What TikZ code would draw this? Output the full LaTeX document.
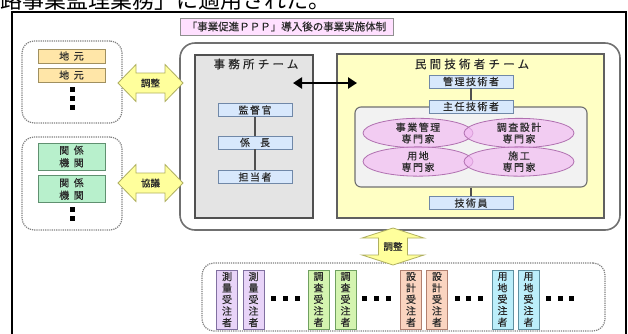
\documentclass[tikz,border=0pt]{standalone}
\usepackage{fontspec}
\setmainfont{Noto Sans CJK JP}
\newfontfamily\jp[FakeBold=0.4]{Noto Sans CJK JP}
\newfontfamily\jpthin{Noto Sans CJK JP}
\newfontfamily\jpsp[LetterSpace=15,FakeBold=0.4]{Noto Sans CJK JP}
\newfontfamily\jpwide[LetterSpace=28,FakeBold=0.4]{Noto Sans CJK JP}
\newfontfamily\jpvwide[LetterSpace=45,FakeBold=0.4]{Noto Sans CJK JP}
\usetikzlibrary{arrows.meta,shapes.geometric}
\definecolor{txt}{HTML}{2A2A2A}
\definecolor{titlefill}{HTML}{FFE0FF}
\definecolor{titlebd}{HTML}{909090}
\definecolor{mainbd}{HTML}{707070}
\definecolor{officefill}{HTML}{E4E4E4}
\definecolor{officebd}{HTML}{505050}
\definecolor{privfill}{HTML}{FFFFC4}
\definecolor{privbd}{HTML}{606060}
\definecolor{bluefill}{HTML}{D8E8FC}
\definecolor{bluebd}{HTML}{7088A8}
\definecolor{innerfill}{HTML}{F2F2F2}
\definecolor{ellfill}{HTML}{F2B8F2}
\definecolor{ellbd}{HTML}{B070B0}
\definecolor{chimotofill}{HTML}{FFE6A8}
\definecolor{chimotobd}{HTML}{A09060}
\definecolor{kankeifill}{HTML}{B8F0CC}
\definecolor{kankeibd}{HTML}{609070}
\definecolor{yarrfill}{HTML}{FFFF9C}
\definecolor{yarrbd}{HTML}{B0B060}
\definecolor{dotbd}{HTML}{808080}
\definecolor{sokufill}{HTML}{E8D4F8}\definecolor{sokubd}{HTML}{8070A0}
\definecolor{chosafill}{HTML}{D4F4B0}\definecolor{chosabd}{HTML}{70A060}
\definecolor{sekkeifill}{HTML}{FAD4C0}\definecolor{sekkeibd}{HTML}{B08070}
\definecolor{yochifill}{HTML}{BCEEFA}\definecolor{yochibd}{HTML}{6090A0}
\tikzset{
  lbl/.style={font=\jpsp\fontsize{10}{12}\selectfont, text=txt},
  bluebox/.style={draw=bluebd, fill=bluefill, line width=0.8, minimum width=84, minimum height=13, inner sep=0, lbl},
  teamtitle/.style={font=\jpwide\fontsize{11.5}{13}\selectfont, text=txt, inner sep=0},
  ellbox/.style={ellipse, draw=ellbd, fill=ellfill, fill opacity=0.65, text opacity=1, line width=0.8, minimum width=110, minimum height=29, inner sep=0, align=center, font=\jpsp\fontsize{10}{11.5}\selectfont, text=txt},
  dotgroup/.style={draw=dotbd, densely dotted, line width=1.2, rounded corners=12, inner sep=0},
  sidebox/.style={line width=0.9, minimum width=67, inner sep=0, align=center, font=\jpvwide\fontsize{10}{12.5}\selectfont, text=txt},
  vbox/.style={line width=0.9, minimum width=21, minimum height=59, inner sep=0, align=center, font=\jp\fontsize{10}{11.5}\selectfont, text=txt},
  yarr/.style={draw=yarrbd, fill=yarrfill, line width=0.8, line join=miter},
  arrlbl/.style={font=\jp\fontsize{9.5}{11}\selectfont, text=txt, inner sep=0},
  conn/.style={draw=officebd, line width=1.3},
  sq/.style={fill=black},
}
\begin{document}
\begin{tikzpicture}[x=1pt,y=-1pt]
\useasboundingbox (0,0) rectangle (628,333);
\fill[white] (0,0) rectangle (628,333);
% cut text at top (cropped in the reference)
\node[anchor=base west, inner sep=0, font=\jpthin\fontsize{22}{22}\selectfont, text=black] (toptext) at (0,8) {路事業監理業務」に適用された。};
% outer frame
\draw[line width=1.4] (12,12) rectangle (626,350);
% title
\node[draw=titlebd, fill=titlefill, line width=0.9, minimum width=213, minimum height=17, inner sep=0, font=\jp\fontsize{10.5}{12}\selectfont, text=txt] (title) at (286.5,26.5) {「事業促進ＰＰＰ」導入後の事業実施体制};
% main rounded box
\node[draw=mainbd, fill=white, line width=1.6, rounded corners=15, minimum width=440, minimum height=187, inner sep=0] (main) at (400,136.5) {};
% office team
\node[draw=officebd, fill=officefill, line width=1.1, minimum width=118, minimum height=163, inner sep=0] (office) at (254,136.5) {};
\node[teamtitle] (officetitle) at (256,64) {事務所チーム};
\node[bluebox, minimum width=74] (kantoku) at (255,110) {監督官};
\node[bluebox, minimum width=74, font=\jp\fontsize{10}{12}\selectfont] (kakari) at (255,142.5) {係　長};
\node[bluebox, minimum width=74] (tanto) at (255,177) {担当者};
\draw[conn] (kantoku) -- (kakari);
\draw[conn] (kakari) -- (tanto);
% private team
\node[draw=privbd, fill=privfill, line width=1.1, minimum width=267, minimum height=164, inner sep=0] (priv) at (470.5,136) {};
\node[teamtitle] (privtitle) at (472,64) {民間技術者チーム};
\node[draw=mainbd, fill=innerfill, line width=1.1, rounded corners=6, minimum width=232, minimum height=80, inner sep=0] (inner) at (471,147) {};
\node[bluebox] (kanri) at (471,81.5) {管理技術者};
\node[bluebox] (shunin) at (471,106.5) {主任技術者};
\draw[conn] (kanri) -- (shunin);
\node[ellbox] (e1) at (418,133) {事業管理\\専門家};
\node[ellbox] (e2) at (519,133) {調査設計\\専門家};
\node[ellbox] (e3) at (418,161.5) {用地\\専門家};
\node[ellbox] (e4) at (519,161.5) {施工\\専門家};
\node[bluebox] (gijutsu) at (471,203) {技術員};
\draw[conn] (inner.south) -- (gijutsu.north);
% black double arrow
\coordinate (ba1) at (293,83);
\coordinate (ba2) at (357,83);
\draw[line width=2.6, {Triangle[length=9pt,width=11pt]}-{Triangle[length=9pt,width=11pt]}] (ba1) -- (ba2);
% left groups
\node[dotgroup, minimum width=100, minimum height=82] (g1) at (72,82) {};
\node[sidebox, draw=chimotobd, fill=chimotofill, minimum height=14] (chimoto1) at (71.5,56) {地元};
\node[sidebox, draw=chimotobd, fill=chimotofill, minimum height=14] (chimoto2) at (71.5,75) {地元};
\fill[sq] (69.5,86.5) rectangle +(5,5);
\fill[sq] (69.5,95.5) rectangle +(5,5);
\fill[sq] (69.5,105) rectangle +(5,5);
\node[dotgroup, minimum width=100, minimum height=93] (g2) at (72,183.5) {};
\node[sidebox, draw=kankeibd, fill=kankeifill, minimum height=27] (kankei1) at (71.5,156.5) {関係\\機関};
\node[sidebox, draw=kankeibd, fill=kankeifill, minimum height=27] (kankei2) at (71.5,189) {関係\\機関};
\fill[sq] (69.5,206.5) rectangle +(5,5);
\fill[sq] (69.5,215.5) rectangle +(5,5);
% yellow horizontal arrows
\draw[yarr, shift={(150.5,83)}] (-32.5,0) -- (-14.5,-18.5) -- (-14.5,-10) -- (14.5,-10) -- (14.5,-18.5) -- (32.5,0) -- (14.5,18.5) -- (14.5,10) -- (-14.5,10) -- (-14.5,18.5) -- cycle;
\node[arrlbl] (chosei1) at (150.5,83) {調整};
\draw[yarr, shift={(150.5,183)}] (-32.5,0) -- (-14.5,-18.5) -- (-14.5,-10) -- (14.5,-10) -- (14.5,-18.5) -- (32.5,0) -- (14.5,18.5) -- (14.5,10) -- (-14.5,10) -- (-14.5,18.5) -- cycle;
\node[arrlbl] (kyogi) at (150.5,183) {協議};
% bottom group
\node[dotgroup, minimum width=403, minimum height=68] (g3) at (403.5,297) {};
\draw[yarr, shift={(393,246.5)}] (0,-18.5) -- (31,-8.5) -- (14.5,-8.5) -- (14.5,8.5) -- (31,8.5) -- (0,18.5) -- (-31,8.5) -- (-14.5,8.5) -- (-14.5,-8.5) -- (-31,-8.5) -- cycle;
\node[arrlbl] (chosei2) at (393,246.5) {調整};
\node[vbox, draw=sokubd, fill=sokufill] (soku1) at (227,299.5) {測\\量\\受\\注\\者};
\node[vbox, draw=sokubd, fill=sokufill] (soku2) at (253.5,299.5) {測\\量\\受\\注\\者};
\node[vbox, draw=chosabd, fill=chosafill] (chosa1) at (318.5,299.5) {調\\査\\受\\注\\者};
\node[vbox, draw=chosabd, fill=chosafill] (chosa2) at (345.5,299.5) {調\\査\\受\\注\\者};
\node[vbox, draw=sekkeibd, fill=sekkeifill] (sekkei1) at (411,299.5) {設\\計\\受\\注\\者};
\node[vbox, draw=sekkeibd, fill=sekkeifill] (sekkei2) at (437,299.5) {設\\計\\受\\注\\者};
\node[vbox, draw=yochibd, fill=yochifill] (yochi1) at (502.5,299.5) {用\\地\\受\\注\\者};
\node[vbox, draw=yochibd, fill=yochifill] (yochi2) at (528.5,299.5) {用\\地\\受\\注\\者};
\foreach \x in {273,285,297, 364,376,388, 457,468.5,480, 548,560,571.5}
  \fill[sq] (\x-2.5,295.5) rectangle +(5,5);
\end{tikzpicture}
\end{document}
